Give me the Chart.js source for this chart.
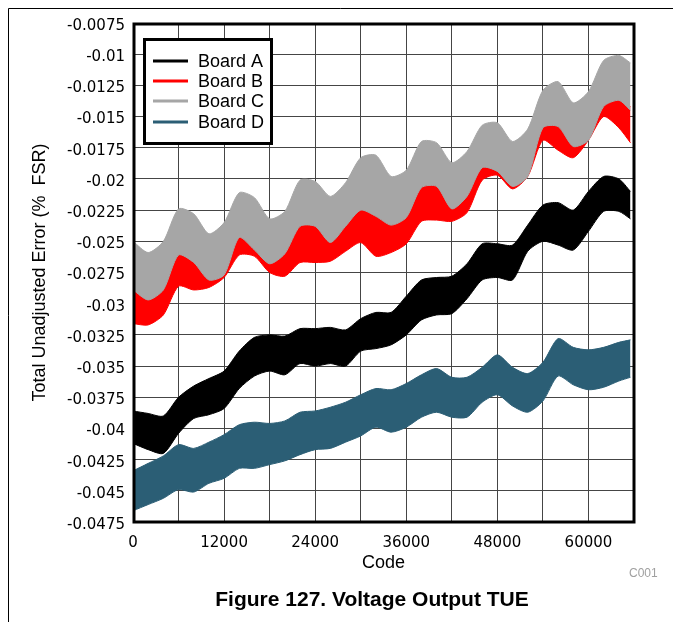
<!DOCTYPE html>
<html>
<head>
<meta charset="utf-8">
<script src="https://cdn.jsdelivr.net/npm/chart.js@4.4.1/dist/chart.umd.min.js"></script>
<style>
    html, body { margin: 0; padding: 0; background: #fff; }
    #wrap { position: relative; width: 673px; height: 622px; }
</style>
</head>
<body>
<div id="wrap"><canvas id="tueChart" width="673" height="622"></canvas></div>
<script>
// Codes sampled along the x axis
const codes = [0, 2000, 4000, 6000, 8000, 10000, 12000, 14000, 16000, 18000, 20000, 22000, 24000, 26000, 28000, 30000, 32000, 34000, 36000, 38000, 40000, 42000, 44000, 46000, 48000, 50000, 52000, 54000, 56000, 58000, 60000, 62000, 64000, 65535];

// Upper / lower envelope of each board's noisy band (% FSR)
const boardAUpper = [-0.0386, -0.0388, -0.0390, -0.0375, -0.0366, -0.0360, -0.0354, -0.0338, -0.0327, -0.0325, -0.0326, -0.0320, -0.0320, -0.0319, -0.0321, -0.0312, -0.0307, -0.0307, -0.0294, -0.0281, -0.0279, -0.0278, -0.0268, -0.0252, -0.0252, -0.0253, -0.0237, -0.0221, -0.0219, -0.0225, -0.0210, -0.0198, -0.0200, -0.0210];
const boardALower = [-0.0412, -0.0417, -0.0420, -0.0404, -0.0392, -0.0389, -0.0384, -0.0368, -0.0358, -0.0354, -0.0357, -0.0348, -0.0350, -0.0348, -0.0350, -0.0338, -0.0336, -0.0333, -0.0325, -0.0313, -0.0309, -0.0308, -0.0296, -0.0281, -0.0279, -0.0281, -0.0258, -0.0250, -0.0253, -0.0257, -0.0242, -0.0226, -0.0226, -0.0232];

const boardBUpper = [-0.0286, -0.0294, -0.0286, -0.0258, -0.0264, -0.0278, -0.0274, -0.0244, -0.0254, -0.0265, -0.0257, -0.0235, -0.0236, -0.0248, -0.0235, -0.0222, -0.0227, -0.0234, -0.0228, -0.0204, -0.0203, -0.0221, -0.0211, -0.0188, -0.0191, -0.0203, -0.0195, -0.0156, -0.0155, -0.0171, -0.0166, -0.0139, -0.0134, -0.0142];
const boardBLower = [-0.0316, -0.0317, -0.0309, -0.0286, -0.0289, -0.0287, -0.0279, -0.0261, -0.0262, -0.0275, -0.0278, -0.0267, -0.0267, -0.0266, -0.0258, -0.0251, -0.0262, -0.0259, -0.0252, -0.0234, -0.0233, -0.0234, -0.0227, -0.0201, -0.0197, -0.0208, -0.0198, -0.0169, -0.0177, -0.0183, -0.0169, -0.0150, -0.0159, -0.0171];

const boardCUpper = [-0.0250, -0.0259, -0.0250, -0.0224, -0.0228, -0.0244, -0.0235, -0.0211, -0.0215, -0.0232, -0.0226, -0.0201, -0.0202, -0.0214, -0.0203, -0.0183, -0.0181, -0.0198, -0.0193, -0.0170, -0.0171, -0.0187, -0.0178, -0.0157, -0.0155, -0.0170, -0.0160, -0.0129, -0.0122, -0.0139, -0.0130, -0.0105, -0.0101, -0.0107];
const boardCLower = [-0.0289, -0.0297, -0.0289, -0.0261, -0.0267, -0.0281, -0.0277, -0.0247, -0.0257, -0.0268, -0.0260, -0.0238, -0.0238, -0.0251, -0.0238, -0.0225, -0.0230, -0.0237, -0.0231, -0.0207, -0.0206, -0.0224, -0.0214, -0.0191, -0.0194, -0.0206, -0.0198, -0.0159, -0.0158, -0.0174, -0.0169, -0.0142, -0.0137, -0.0145];

const boardDUpper = [-0.0434, -0.0428, -0.0422, -0.0413, -0.0416, -0.0411, -0.0405, -0.0397, -0.0395, -0.0396, -0.0394, -0.0387, -0.0386, -0.0383, -0.0379, -0.0373, -0.0368, -0.0369, -0.0364, -0.0357, -0.0352, -0.0359, -0.0359, -0.0351, -0.0341, -0.0351, -0.0356, -0.0347, -0.0328, -0.0335, -0.0337, -0.0335, -0.0331, -0.0329];
const boardDLower = [-0.0466, -0.0461, -0.0456, -0.0449, -0.0451, -0.0444, -0.0440, -0.0432, -0.0432, -0.0429, -0.0426, -0.0421, -0.0417, -0.0416, -0.0411, -0.0406, -0.0399, -0.0403, -0.0399, -0.0391, -0.0387, -0.0391, -0.0391, -0.0379, -0.0373, -0.0382, -0.0387, -0.0378, -0.0358, -0.0365, -0.0369, -0.0367, -0.0362, -0.0359];

const boardNames = ['Board A', 'Board B', 'Board C', 'Board D'];
const boardColors = ['#000000', '#ff0000', '#a6a6a6', '#2b5e75'];

const toPoints = arr => codes.map((c, i) => ({ x: c, y: arr[i] }));

// each board = lower edge + upper edge filled down to it
function band(lower, upper, color, order) {
    const common = {
        borderColor: color,
        backgroundColor: color,
        borderWidth: 1,
        pointRadius: 0,
        tension: 0.25,
        order: order
    };
    return [
        { ...common, data: toPoints(lower), fill: false },
        { ...common, data: toPoints(upper), fill: '-1' }
    ];
}

// Legend box, plot frame, caption and page rule
const extrasPlugin = {
    id: 'extras',
    afterDatasetsDraw(chart) {
        const { ctx, chartArea: ca } = chart;
        ctx.save();
        ctx.strokeStyle = '#000';
        ctx.lineWidth = 3;
        ctx.strokeRect(ca.left + 1, ca.top + 1, ca.right - ca.left - 1, ca.bottom - ca.top - 1);

        // legend
        const lx = 143, ly = 38, lw = 130, lh = 107;
        ctx.fillStyle = '#fff';
        ctx.fillRect(lx, ly, lw, lh);
        ctx.strokeRect(lx + 1.5, ly + 1.5, lw - 3, lh - 3);
        ctx.font = '18px "Liberation Sans", Arial, sans-serif';
        ctx.textBaseline = 'middle';
        ctx.textAlign = 'left';
        const rows = [61, 81, 101, 122];
        boardNames.forEach((name, i) => {
            ctx.strokeStyle = boardColors[i];
            ctx.lineWidth = 3;
            ctx.beginPath();
            ctx.moveTo(153, rows[i]);
            ctx.lineTo(188, rows[i]);
            ctx.stroke();
            ctx.fillStyle = '#000';
            ctx.fillText(name, 198, rows[i] + 1);
        });
        ctx.restore();
    },
    afterDraw(chart) {
        const { ctx } = chart;
        ctx.save();
        ctx.strokeStyle = '#000';
        ctx.lineWidth = 1;
        ctx.beginPath();
        ctx.moveTo(8.5, 622);
        ctx.lineTo(8.5, 8.5);
        ctx.lineTo(673, 8.5);
        ctx.stroke();

        ctx.fillStyle = '#a0a0a0';
        ctx.font = '12px "Liberation Sans", Arial, sans-serif';
        ctx.textAlign = 'left';
        ctx.textBaseline = 'middle';
        ctx.fillText('C001', 629, 574);

        ctx.fillStyle = '#000';
        ctx.font = 'bold 21px "Liberation Sans", Arial, sans-serif';
        ctx.textAlign = 'center';
        ctx.fillText('Figure 127. Voltage Output TUE', 372, 600);
        ctx.restore();
    }
};

const gridStyle = {
    color: '#454545',
    lineWidth: 1,
    drawTicks: false
};

new Chart(document.getElementById('tueChart').getContext('2d'), {
    type: 'line',
    data: {
        datasets: [
            ...band(boardALower, boardAUpper, boardColors[0], 3),
            ...band(boardBLower, boardBUpper, boardColors[1], 2),
            ...band(boardCLower, boardCUpper, boardColors[2], 1),
            ...band(boardDLower, boardDUpper, boardColors[3], 0)
        ]
    },
    options: {
        responsive: false,
        animation: false,
        layout: {
            padding: { left: 0, right: 39, top: 23, bottom: 40 }
        },
        plugins: {
            legend: { display: false },
            tooltip: { enabled: false },
            filler: { propagate: false }
        },
        scales: {
            x: {
                type: 'linear',
                min: 0,
                max: 66000,
                grid: gridStyle,
                border: { display: false },
                afterFit: s => { s.height = 60; },
                ticks: {
                    stepSize: 6000,
                    autoSkip: false,
                    maxRotation: 0,
                    padding: 12,
                    color: '#000',
                    font: { family: '"DejaVu Sans", sans-serif', size: 15 },
                    callback: v => (v % 12000 === 0 ? String(v) : '')
                },
                title: {
                    display: true,
                    text: 'Code',
                    color: '#000',
                    padding: { top: 0, bottom: 8 },
                    font: { family: '"Liberation Sans", Arial, sans-serif', size: 18 }
                }
            },
            y: {
                type: 'linear',
                min: -0.0475,
                max: -0.0075,
                grid: gridStyle,
                border: { display: false },
                afterFit: s => { s.width = 133; },
                ticks: {
                    stepSize: 0.0025,
                    autoSkip: false,
                    padding: 8,
                    labelOffset: 3,
                    color: '#000',
                    font: { family: '"DejaVu Sans", sans-serif', size: 15 },
                    callback: v => parseFloat(v.toFixed(4)).toString()
                },
                title: {
                    display: true,
                    text: 'Total Unadjusted Error (%  FSR)',
                    color: '#000',
                    padding: { top: 29, bottom: 0 },
                    font: { family: '"Liberation Sans", Arial, sans-serif', size: 18 }
                }
            }
        }
    },
    plugins: [extrasPlugin]
});
</script>
</body>
</html>
